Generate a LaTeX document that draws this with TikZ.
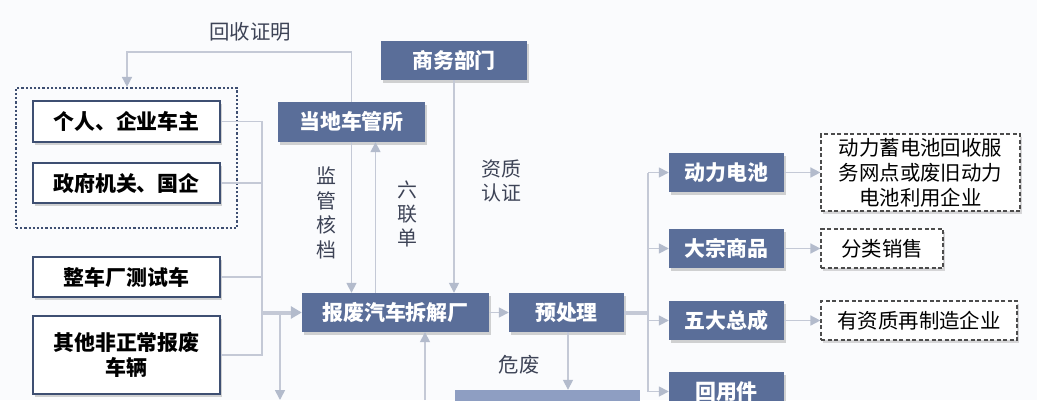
\documentclass[tikz,border=0pt]{standalone}
\usepackage{fontspec}
\setmainfont{Noto Sans CJK SC}
\usetikzlibrary{arrows.meta,shadows,calc}
\definecolor{boxblue}{HTML}{5A6E99}
\definecolor{lightblue}{HTML}{8E9EC2}
\definecolor{boxborder}{HTML}{3E4F72}
\definecolor{linec}{HTML}{C4C9D6}
\definecolor{tipc}{HTML}{B3BBCC}
\definecolor{labelc}{HTML}{3D4356}
\definecolor{bgc}{HTML}{FAFBFD}
\tikzset{
  base/.style={inner sep=0pt, align=center, font=\fontsize{21}{25}\selectfont\bfseries},
  darkbox/.style={base, fill=boxblue, text=white, drop shadow={shadow xshift=2bp, shadow yshift=-3bp, opacity=0.35}},
  whitebox/.style={base, fill=white, draw=boxborder, line width=2bp, text=black, drop shadow={shadow xshift=2bp, shadow yshift=-3bp, opacity=0.35}},
  dashbox/.style={inner sep=0pt, align=center, font=\fontsize{20.5}{25}\selectfont, fill=white, draw=gray!60!black, dash pattern=on 4bp off 2.5bp, line width=1.2bp, text=black, drop shadow={shadow xshift=2bp, shadow yshift=-3bp, opacity=0.3}},
  lbl/.style={inner sep=0pt, align=center, text=labelc, font=\fontsize{20.5}{24}\selectfont},
  conn/.style={draw=linec, line width=1.6bp},
  arr/.style={conn, -{Triangle[length=10bp,width=10bp,color=tipc]}},
  fat/.style={draw=linec, line width=4bp},
}
\begin{document}
\begin{tikzpicture}[x=1bp,y=-1bp]
\useasboundingbox (0,0) rectangle (1037,400);
\clip (0,0) rectangle (1037,400);
\fill[bgc] (0,0) rectangle (1037,400);

% nodes
\node[whitebox, minimum width=187bp, minimum height=41bp] (own1) at (126.5,121.5) {个人、企业车主};
\node[whitebox, minimum width=187bp, minimum height=40bp] (own2) at (126.5,183) {政府机关、国企};
\node[whitebox, minimum width=187bp, minimum height=40bp] (own3) at (126.5,277) {整车厂测试车};
\node[whitebox, minimum width=187bp, minimum height=78bp] (own4) at (126.5,355) {其他非正常报废\\车辆};
\node[draw=boxborder, dotted, line width=2.2bp, minimum width=221bp, minimum height=140bp, inner sep=0pt] (grp) at (126.5,158) {};

\node[darkbox, minimum width=147bp, minimum height=40bp] (guan) at (351.5,122) {当地车管所};
\node[darkbox, minimum width=146bp, minimum height=39bp] (shang) at (454,60.5) {商务部门};
\node[darkbox, minimum width=187bp, minimum height=39bp] (chai) at (395.5,312.5) {报废汽车拆解厂};
\node[darkbox, minimum width=115bp, minimum height=39bp] (yu) at (566.5,312.5) {预处理};
\node[darkbox, minimum width=115bp, minimum height=39bp] (dl) at (726.5,172.5) {动力电池};
\node[darkbox, minimum width=115bp, minimum height=39bp] (dz) at (726.5,248.5) {大宗商品};
\node[darkbox, minimum width=115bp, minimum height=39bp] (wd) at (726.5,320.5) {五大总成};
\node[darkbox, minimum width=115bp, minimum height=39bp] (hy) at (726.5,391.5) {回用件};
\node[base, fill=lightblue, minimum width=185bp, minimum height=40bp] (bot) at (547.5,410) {};

\node[dashbox, minimum width=199bp, minimum height=77bp] (d1) at (920.5,172.5) {动力蓄电池回收服\\务网点或废旧动力\\电池利用企业};
\node[dashbox, minimum width=122bp, minimum height=39bp] (d2) at (882,248.5) {分类销售};
\node[dashbox, minimum width=196bp, minimum height=39bp] (d3) at (919,320.5) {有资质再制造企业};

% labels
\node[lbl] (l1) at (250,32) {回收证明};
\node[lbl, font=\fontsize{20}{24.5}\selectfont] (l2) at (326,213) {监\\管\\核\\档};
\node[lbl, font=\fontsize{20}{24}\selectfont] (l3) at (407,214) {六\\联\\单};
\node[lbl, font=\fontsize{20}{25}\selectfont] (l4) at (501,181) {资质\\认证};
\node[lbl] (l5) at (519,365) {危废};

% coordinates
\coordinate (bus) at (262,0);
\coordinate (topl) at (127,52);
\coordinate (trunk) at (648,0);
\coordinate (botin) at (425,400);
\coordinate (botout) at (280,400);

% left owners to collector
\draw[conn] (own1.east) -- (own1.east -| bus) -- (own4.east -| bus) -- (own4.east);
\draw[conn] (own2.east) -- (own2.east -| bus);
\draw[conn] (own3.east) -- (own3.east -| bus);
\draw[fat, -{Triangle[length=11bp,width=12bp,color=tipc]}] (chai.west -| bus) -- (chai.west);
\draw[arr] (botout |- chai.west) -- (botout);

% 回收证明 loop
\draw[arr] (guan.north) -- (guan.north |- topl) -- (topl) -- (grp.north -| topl);
% 监管核档
\draw[arr] (guan.south) -- (guan.south |- chai.north);
% 六联单
\draw[arr] ([xshift=24bp]guan.south |- chai.north) -- ([xshift=24bp]guan.south);
% 资质认证
\draw[arr] (shang.south) -- (shang.south |- chai.north);
% from below
\draw[arr] (botin) -- (botin |- chai.south);

% chain
\draw[arr] (chai.east) -- (yu.west);
\draw[fat] (yu.east) -- (yu.east -| trunk);
\draw[conn] (dl.west -| trunk) -- (hy.west -| trunk);
\draw[arr] (dl.west -| trunk) -- (dl.west);
\draw[arr] (dz.west -| trunk) -- (dz.west);
\draw[arr] (wd.west -| trunk) -- (wd.west);
\draw[arr] (hy.west -| trunk) -- (hy.west);
\draw[arr] ([xshift=1.5bp]yu.south) -- ([xshift=1.5bp]yu.south |- bot.north);

\draw[arr] (dl.east) -- (d1.west);
\draw[arr] (dz.east) -- (d2.west);
\draw[arr] (wd.east) -- (d3.west);
\end{tikzpicture}
\end{document}
